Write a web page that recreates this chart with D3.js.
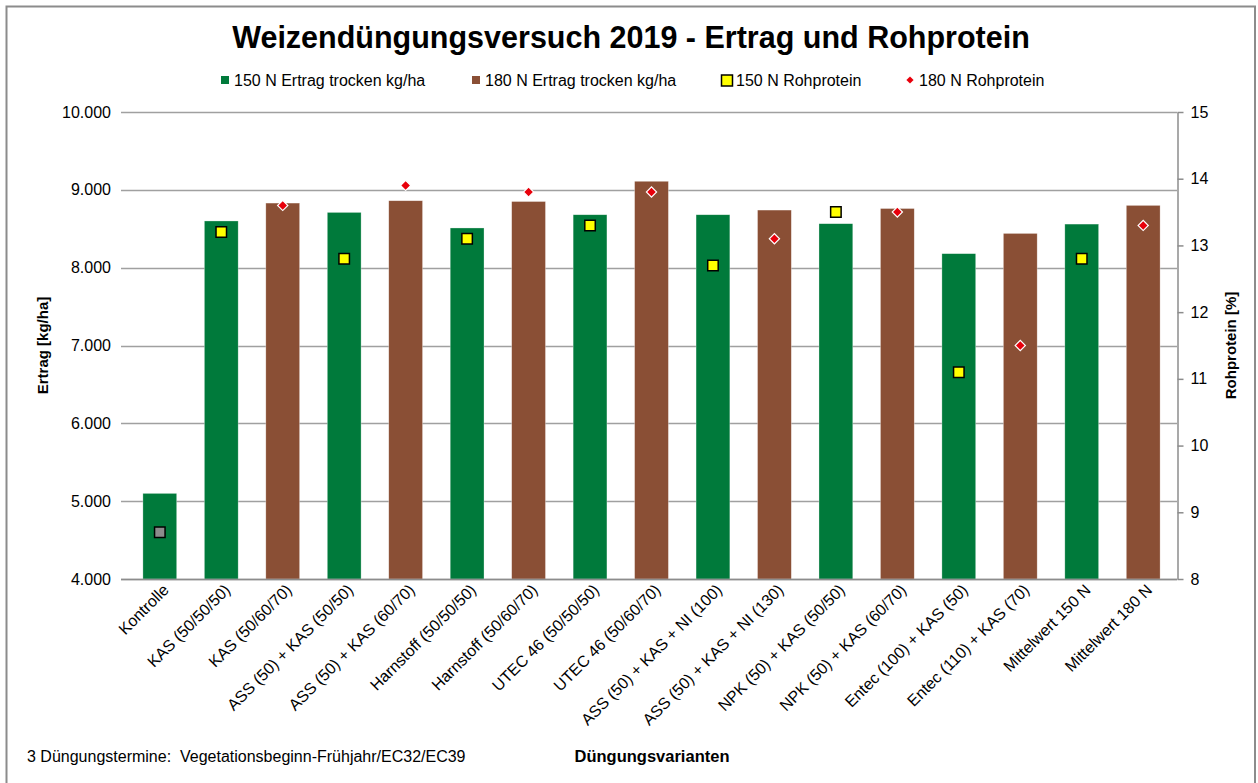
<!DOCTYPE html>
<html>
<head>
<meta charset="utf-8">
<script src="https://cdn.jsdelivr.net/npm/d3@7"></script>
<style>
  body { margin: 0; background: #fff; }
  text { font-family: "Liberation Sans", Arial, sans-serif; fill: #000; }
</style>
</head>
<body>
<div id="wrapper"></div>
<script>

// data

const categories = [
  "Kontrolle", "KAS (50/50/50)", "KAS (50/60/70)", "ASS (50) + KAS (50/50)",
  "ASS (50) + KAS (60/70)", "Harnstoff (50/50/50)", "Harnstoff (50/60/70)",
  "UTEC 46 (50/50/50)", "UTEC 46 (50/60/70)", "ASS (50) + KAS + NI (100)",
  "ASS (50) + KAS + NI (130)", "NPK (50) + KAS (50/50)", "NPK (50) + KAS (60/70)",
  "Entec (100) + KAS (50)", "Entec (110) + KAS (70)", "Mittelwert 150 N", "Mittelwert 180 N"
];

const ertrag150 = [5100, 8600, null, 8710, null, 8510, null, 8680, null, 8680, null, 8565, null, 8180, null, 8560, null];
const ertrag180 = [null, null, 8830, null, 8860, null, 8850, null, 9110, null, 8740, null, 8760, null, 8440, null, 8800];

const protein150 = [8.7, 13.2, null, 12.8, null, 13.1, null, 13.3, null, 12.7, null, 13.5, null, 11.1, null, 12.8, null];
const protein180 = [null, null, 13.6, null, 13.9, null, 13.8, null, 13.8, null, 13.1, null, 13.5, null, 11.5, null, 13.3];

const leftTicks = [4000, 5000, 6000, 7000, 8000, 9000, 10000];
const rightTicks = [8, 9, 10, 11, 12, 13, 14, 15];

const seriesNames = [
  "150 N Ertrag trocken kg/ha", "180 N Ertrag trocken kg/ha",
  "150 N Rohprotein", "180 N Rohprotein"
];

// dimensions

const dms = {
  width: 1258,
  height: 783,
  plot: { left: 126, right: 1177, top: 112, bottom: 579 }
};

const green = "#007a3b";
const brown = "#8a4f35";

const de = d3.formatLocale({ decimal: ",", thousands: ".", grouping: [3], currency: ["", "€"] });

// canvas

const svg = d3.select("#wrapper")
  .append("svg")
    .attr("width", dms.width)
    .attr("height", dms.height);

svg.append("rect")
  .attr("x", 6.5).attr("y", 6.5)
  .attr("width", 1248.5).attr("height", 790)
  .attr("fill", "#fff")
  .attr("stroke", "#8c8c8c")
  .attr("stroke-width", 2);

// scales

const xScale = d3.scaleBand()
  .domain(categories)
  .range([dms.plot.left, dms.plot.right])
  .paddingInner(0.45)
  .paddingOuter(0.275);

const yLeft = d3.scaleLinear()
  .domain([4000, 10000])
  .range([dms.plot.bottom, dms.plot.top]);

const yRight = d3.scaleLinear()
  .domain([8, 15])
  .range([dms.plot.bottom, dms.plot.top]);

// grid

svg.append("g")
  .selectAll("line")
  .data(leftTicks)
  .join("line")
    .attr("x1", dms.plot.left - 5)
    .attr("x2", dms.plot.right)
    .attr("y1", d => Math.round(yLeft(d)) + 0.5)
    .attr("y2", d => Math.round(yLeft(d)) + 0.5)
    .attr("stroke", "#a0a0a0")
    .attr("stroke-width", 1.5);

// bars

const barData = categories.map((c, i) => ({
  cat: c,
  value: ertrag150[i] != null ? ertrag150[i] : ertrag180[i],
  color: ertrag150[i] != null ? green : brown
}));

svg.append("g")
  .selectAll("rect")
  .data(barData)
  .join("rect")
    .attr("x", d => xScale(d.cat))
    .attr("y", d => yLeft(d.value))
    .attr("width", xScale.bandwidth())
    .attr("height", d => yLeft(4000) - yLeft(d.value))
    .attr("fill", d => d.color)
    .attr("stroke", "rgba(255,255,255,0.5)")
    .attr("stroke-width", 0.6);

// markers

const squareSym = d3.symbol().type(d3.symbolSquare).size(110);
const diamondSym = d3.symbol().type(d3.symbolSquare).size(52);

svg.append("g")
  .selectAll("path")
  .data(categories.map((c, i) => ({ cat: c, v: protein150[i], i })).filter(d => d.v != null))
  .join("path")
    .attr("d", squareSym)
    .attr("transform", d => `translate(${xScale(d.cat) + xScale.bandwidth() / 2},${yRight(d.v)})`)
    .attr("fill", d => d.i === 0 ? "#8c8c8c" : "#ffff00")
    .attr("stroke", "#000")
    .attr("stroke-width", 1.5);

svg.append("g")
  .selectAll("path")
  .data(categories.map((c, i) => ({ cat: c, v: protein180[i] })).filter(d => d.v != null))
  .join("path")
    .attr("d", diamondSym)
    .attr("transform", d => `translate(${xScale(d.cat) + xScale.bandwidth() / 2},${yRight(d.v)}) rotate(45)`)
    .attr("fill", "#e8000b")
    .attr("stroke", "#fff")
    .attr("stroke-width", 1.2);

// axes

const leftAxis = svg.append("g")
  .attr("transform", `translate(${dms.plot.left},0)`)
  .call(d3.axisLeft(yLeft).tickValues(leftTicks).tickSize(0).tickPadding(15).tickFormat(de.format(",")));
leftAxis.select(".domain").remove();
leftAxis.selectAll("text").style("font-size", "16px").attr("font-family", null);

const rightAxis = svg.append("g")
  .attr("transform", `translate(${dms.plot.right + 0.5},0)`)
  .call(d3.axisRight(yRight).tickValues(rightTicks).tickFormat(d3.format("d")).tickSize(6).tickSizeOuter(0).tickPadding(7));
rightAxis.select(".domain").attr("stroke", "#8c8c8c").attr("stroke-width", 1.5);
rightAxis.selectAll(".tick line").attr("stroke", "#8c8c8c").attr("stroke-width", 1.5);
rightAxis.selectAll("text").style("font-size", "16px").attr("font-family", null);

// bottom baseline
svg.append("line")
  .attr("x1", dms.plot.left - 5).attr("x2", dms.plot.right)
  .attr("y1", dms.plot.bottom + 0.5).attr("y2", dms.plot.bottom + 0.5)
  .attr("stroke", "#8c8c8c").attr("stroke-width", 1.5);

// category labels
svg.append("g")
  .selectAll("text")
  .data(categories)
  .join("text")
    .attr("transform", d => `translate(${xScale(d) + xScale.bandwidth() / 2 + 10},${dms.plot.bottom + 12}) rotate(-45)`)
    .attr("text-anchor", "end")
    .style("font-size", "16px")
    .text(d => d);

// titles

svg.append("text")
  .attr("x", 631).attr("y", 48)
  .attr("text-anchor", "middle")
  .style("font-size", "30.5px")
  .style("font-weight", "bold")
  .text("Weizendüngungsversuch 2019 - Ertrag und Rohprotein");

svg.append("text")
  .attr("transform", `translate(48,${(dms.plot.top + dms.plot.bottom) / 2}) rotate(-90)`)
  .attr("text-anchor", "middle")
  .style("font-size", "15px")
  .style("font-weight", "bold")
  .text("Ertrag [kg/ha]");

svg.append("text")
  .attr("transform", `translate(1236,${(dms.plot.top + dms.plot.bottom) / 2}) rotate(-90)`)
  .attr("text-anchor", "middle")
  .style("font-size", "15px")
  .style("font-weight", "bold")
  .text("Rohprotein [%]");

svg.append("text")
  .attr("x", 27).attr("y", 762)
  .style("font-size", "16px")
  .style("white-space", "pre")
  .text("3 Düngungstermine:  Vegetationsbeginn-Frühjahr/EC32/EC39");

svg.append("text")
  .attr("x", 652).attr("y", 762)
  .attr("text-anchor", "middle")
  .style("font-size", "16.5px")
  .style("font-weight", "bold")
  .text("Düngungsvarianten");

// legend

const legendX = [221, 472, 721, 907];
const legend = svg.append("g");

seriesNames.forEach((name, i) => {
  const g = legend.append("g").attr("transform", `translate(${legendX[i]},80)`);
  if (i < 2) {
    g.append("rect").attr("x", 0).attr("y", -4).attr("width", 8).attr("height", 8)
      .attr("fill", i === 0 ? green : brown);
    g.append("text").attr("x", 13).attr("y", 6).style("font-size", "16px").text(name);
  } else if (i === 2) {
    g.append("rect").attr("x", 0.5).attr("y", -5).attr("width", 11).attr("height", 11)
      .attr("fill", "#ffff00").attr("stroke", "#000").attr("stroke-width", 1.5);
    g.append("text").attr("x", 15).attr("y", 6).style("font-size", "16px").text(name);
  } else {
    g.append("path").attr("d", d3.symbol().type(d3.symbolSquare).size(26))
      .attr("transform", "translate(3,0) rotate(45)").attr("fill", "#e8000b");
    g.append("text").attr("x", 12).attr("y", 6).style("font-size", "16px").text(name);
  }
});

</script>
</body>
</html>
